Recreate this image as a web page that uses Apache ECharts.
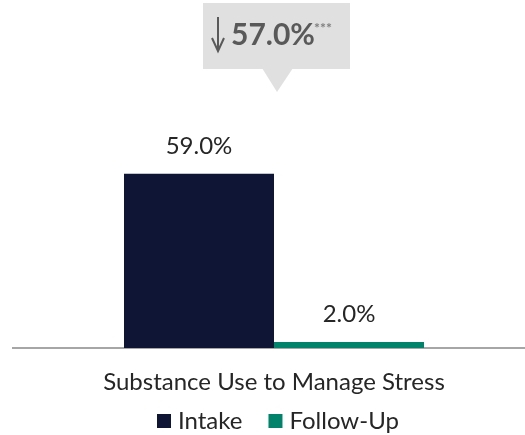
<!DOCTYPE html>
<html><head><meta charset="utf-8">
<script src="https://cdn.jsdelivr.net/npm/echarts@6/dist/echarts.min.js"></script>
<style>html,body{margin:0;padding:0;background:#fff}#c{width:525px;height:435px}</style>
</head><body><div id="c"></div>
<script>
const categories = ['Substance Use to Manage Stress'];
const seriesNames = ['Intake', 'Follow-Up'];
const intakeValues = [59.0];
const followUpValues = [2.0];
const changeLabel = '57.0%';
const significance = '***';

const FONT = 'Lato';
const chart = echarts.init(document.getElementById('c'));
chart.setOption({
  animation: false,
  grid: { left: 23, right: 0, top: 100, bottom: 87 },
  legend: {
    data: seriesNames,
    left: 152, top: 404,
    itemWidth: 14, itemHeight: 14, itemGap: 26,
    icon: 'rect',
    textStyle: { fontFamily: FONT, fontSize: 24, color: '#262626', padding: [0,0,0,2] }
  },
  xAxis: {
    type: 'category', data: categories,
    axisTick: { show: false },
    axisLine: { show: false },
    axisLabel: { fontFamily: FONT, fontSize: 24, color: '#262626', margin: 22 }
  },
  yAxis: { type: 'value', min: 0, max: 84, show: false, splitLine: { show: false } },
  series: [
    { name: seriesNames[0], type: 'bar', data: intakeValues, barWidth: 150, barGap: '0%',
      itemStyle: { color: '#0E1535' },
      label: { show: true, position: 'top', distance: 16, formatter: p => p.value.toFixed(1) + '%',
        fontFamily: FONT, fontSize: 24, color: '#262626' } },
    { name: seriesNames[1], type: 'bar', data: followUpValues, barWidth: 150,
      itemStyle: { color: '#00836A' },
      label: { show: true, position: 'top', distance: 16, formatter: p => p.value.toFixed(1) + '%',
        fontFamily: FONT, fontSize: 24, color: '#262626' } }
  ],
  graphic: [
    { type: 'line', shape: { x1: 12, y1: 348, x2: 525, y2: 348 }, style: { stroke: '#A6A6A6', lineWidth: 2 } },
    { type: 'rect', shape: { x: 203, y: 3, width: 147, height: 66 }, style: { fill: '#E0E0E0' } },
    { type: 'polygon', shape: { points: [[262, 68], [293, 68], [277, 92]] }, style: { fill: '#E0E0E0' } },
    { type: 'polyline', shape: { points: [[218, 17], [218, 50]] }, style: { stroke: '#595959', lineWidth: 2, fill: null } },
    { type: 'polyline', shape: { points: [[212, 38], [218, 51], [224, 38]] }, style: { stroke: '#595959', lineWidth: 2, fill: null } },
    { type: 'text', x: 231, y: 20, style: { text: changeLabel, font: 'bold 30px Lato', fill: '#595959' } },
    { type: 'text', x: 314, y: 21, style: { text: significance, font: 'bold 14px Lato', fill: '#7F7F7F' } }
  ]
});
</script></body></html>
